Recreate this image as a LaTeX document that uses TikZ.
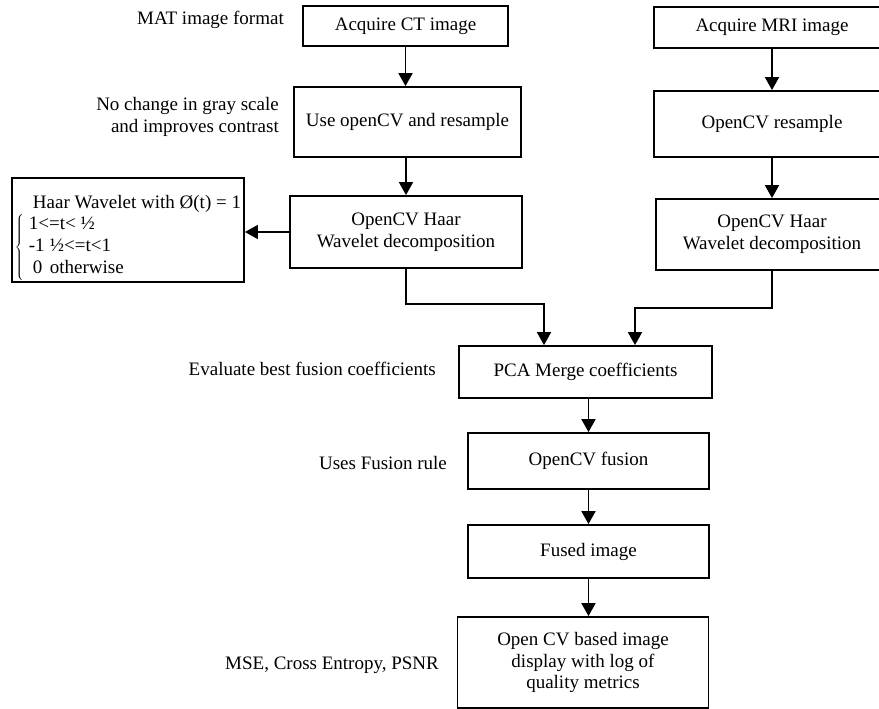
\documentclass[tikz,border=0pt]{standalone}
\usepackage{fontspec}
\setmainfont{Liberation Serif}
\usetikzlibrary{arrows.meta}

\begin{document}
\begin{tikzpicture}[x=1pt,y=-1pt,>={Triangle[length=13pt,width=14pt]},
  font=\fontsize{19}{21.7}\selectfont,
  box/.style={draw,line width=1.8pt,align=center,inner sep=2pt},
  note/.style={inner sep=0pt,anchor=east,align=right},
  flow/.style={->,line width=1.8pt}]
\clip (0,0) rectangle (879,709);
% CT branch
\node (ct) [box,minimum width=205pt,minimum height=40pt] at (405.5,26) {Acquire CT image};
\node (usecv) [box,minimum width=227pt,minimum height=70pt] at (407.5,122) {Use openCV and resample};
\node (haarl) [box,minimum width=232pt,minimum height=72pt] at (406,232) {OpenCV Haar\\Wavelet decomposition};
\node (formula) [box,minimum width=232pt,minimum height=92pt,align=left] at (128,230)
  {\rule{0pt}{29pt}\hspace*{18pt}Haar Wavelet with Ø(t) = 1\\
   $\left\{\mbox{\begin{tabular}{@{\hspace{5pt}}l@{}l@{}}
     \multicolumn{2}{@{\hspace{5pt}}l}{1<=t< ½}\\
     \makebox[21pt][l]{-1} & ½<=t<1\\
     \makebox[21pt][l]{\hspace{4pt}0} & otherwise
   \end{tabular}}\right.$};
% MRI branch
\node (mri) [box,minimum width=236pt,minimum height=41pt] at (772,27.5) {Acquire MRI image};
\node (resample) [box,minimum width=236pt,minimum height=66pt] at (772,124) {OpenCV resample};
\node (haarr) [box,minimum width=232pt,minimum height=71pt] at (772,234.5) {OpenCV Haar\\Wavelet decomposition};
% merged part
\node (pca) [box,minimum width=253pt,minimum height=52pt] at (585.5,372) {PCA Merge coefficients};
\node (fusion) [box,minimum width=241pt,minimum height=56pt] at (588.5,461) {OpenCV fusion};
\node (fused) [box,minimum width=241pt,minimum height=53pt] at (588.5,551.5) {Fused image};
\node (display) [box,minimum width=251pt,minimum height=91pt] at (583,662.5) {Open CV based image\\display with log of\\quality metrics};
% side notes
\node (mat) [note] at (284,20) {MAT image format};
\node (gray) [note] at (279,117) {No change in gray scale\\and improves contrast};
\node (best) [note] at (436,369) {Evaluate best fusion coefficients};
\node (rule) [note] at (447,463) {Uses Fusion rule};
\node (metrics) [note] at (439,665) {MSE, Cross Entropy, PSNR};
% connectors
\coordinate (jl) at (544,304);
\coordinate (jr) at (635,308);
\draw[flow] (ct.south) -- (ct.south |- usecv.north);
\draw[flow] (usecv.south -| haarl.north) -- (haarl.north);
\draw[flow] (haarl.west) -- (haarl.west -| formula.east);
\draw[flow] (mri) -- (resample);
\draw[flow] (resample) -- (haarr);
\draw[flow] (haarl.south) |- (jl) -- (jl |- pca.north);
\draw[flow] (haarr.south) |- (jr) -- (jr |- pca.north);
\draw[flow] (pca.south -| fusion.north) -- (fusion.north);
\draw[flow] (fusion) -- (fused);
\draw[flow] (fused.south) -- (fused.south |- display.north);
\end{tikzpicture}
\end{document}
